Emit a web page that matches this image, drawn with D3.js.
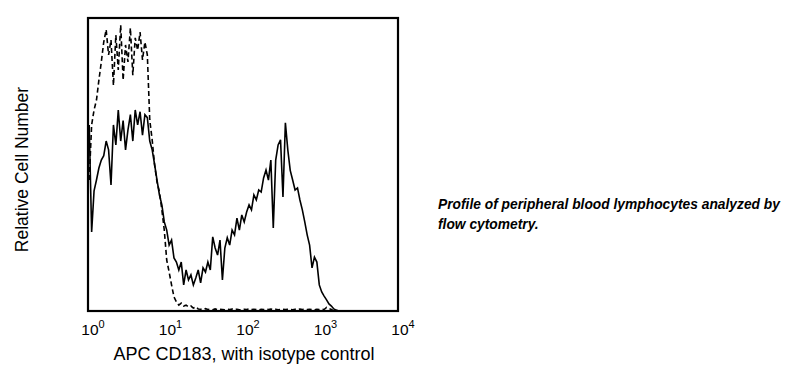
<!DOCTYPE html>
<html>
<head>
<meta charset="utf-8">
<script src="https://cdn.jsdelivr.net/npm/d3@7"></script>
<style>
  html, body { margin: 0; padding: 0; background: #fff; }
  svg { display: block; }
</style>
</head>
<body>
<svg id="chart" width="796" height="378"></svg>
<script>
// ---- data ----
const decadeTicks = [1, 10, 100, 1000, 10000];
const tickExponents = ["0", "1", "2", "3", "4"];
const channelsPerDecade = 32;

// CD183 stained (solid), relative cell number (0-100) per log channel
const cd183Counts = [
  63.5, 27, 41, 44.7, 48.8, 51.5, 53, 58, 55, 43,
  63.5, 56.7, 68.6, 58, 65, 55, 61.8, 67, 58, 68.6,
  63.5, 68, 60, 67, 66, 58, 55, 50, 44.7, 39.6,
  36.2, 30.4, 27.6, 22.5, 24.2, 18.1, 16.7, 14, 16.7, 8.9,
  14, 10.6, 12.3, 8.9, 11.3, 14, 9.6, 14.7, 13.3, 16.7,
  14, 25.3, 21.5, 19.1, 24.2, 10.6, 21.5, 25, 22.5, 27.6,
  26, 31.7, 27.6, 32.8, 30.4, 33.8, 36.2, 34.5, 39.6, 37.9,
  41.3, 40.6, 45.4, 48.1, 44.7, 51.5, 28.3, 51.5, 56.7, 58.4,
  38.9, 64.2, 55, 48, 44.7, 41.3, 42, 37.9, 34.5, 30.4,
  26, 22.5, 14.7, 18.4, 16.7, 8.9, 6.5, 5.1, 3.8, 2.4,
  1.7, 0.7, 0.3, 0, 0, 0, 0, 0, 0, 0,
  0, 0, 0, 0, 0, 0, 0, 0, 0, 0,
  0, 0, 0, 0, 0, 0, 0, 0
];

// isotype control (dashed)
const isotypeCounts = [
  44.7, 63.5, 68.6, 72, 78.8, 85, 91.8, 96, 87.4, 92.5,
  77, 94.2, 82.3, 97.6, 78.8, 90.8, 85, 96.6, 80.5, 93.2,
  89, 95.2, 85.7, 91.8, 87.4, 65.2, 58.4, 49.8, 44, 40.6,
  34.5, 27.6, 17.4, 13.3, 8.9, 4.8, 3.1, 2, 2.7, 1.7,
  2, 1.4, 1.7, 1, 1.4, 0.7, 0.6, 0.5, 0.8, 0.5,
  0.6, 0.4, 0.7, 0.5, 0.6, 0.5, 0.4, 0.6, 0.5, 0.7,
  0.5, 0.6, 0.4, 0.5, 0.6, 0.5, 0.7, 0.5, 0.6, 0.5,
  0.4, 0.6, 0.5, 0.6, 0.5, 0.7, 0.5, 0.6, 0.4, 0.5,
  0.6, 0.5, 0.6, 0.5, 0.4, 0.6, 0.5, 0.7, 0.5, 0.6,
  0.5, 0.6, 0.5, 0.4, 0.6, 0.5, 0.6, 0.5, 1.2, 0.8,
  0.5, 0, 0, 0, 0, 0, 0, 0, 0, 0,
  0, 0, 0, 0, 0, 0, 0, 0, 0, 0,
  0, 0, 0, 0, 0, 0, 0, 0
];

const xAxisTitle = "APC CD183, with isotype control";
const yAxisTitle = "Relative Cell Number";
const captionLines = ["Profile of peripheral blood lymphocytes analyzed by", "flow cytometry."];

// ---- layout ----
const plot = { left: 88, right: 398, top: 18, bottom: 311 };
const svg = d3.select("#chart");
svg.append("rect").attr("width", 796).attr("height", 378).attr("fill", "#fff");

const x = d3.scaleLog().domain([1, 10000]).range([plot.left, plot.right]);
const y = d3.scaleLinear().domain([0, 100]).range([plot.bottom, plot.top]);

const channelValue = i => Math.pow(10, (i + 0.5) / channelsPerDecade);

const line = d3.line()
  .x((d, i) => x(channelValue(i)))
  .y(d => y(d));

const g = svg.append("g");

g.append("path")
  .datum(isotypeCounts)
  .attr("d", line)
  .attr("fill", "none")
  .attr("stroke", "#000")
  .attr("stroke-width", 1.6)
  .attr("stroke-dasharray", "5,3");

g.append("path")
  .datum(cd183Counts)
  .attr("d", line)
  .attr("fill", "none")
  .attr("stroke", "#000")
  .attr("stroke-width", 1.6)
  .attr("stroke-linejoin", "miter");

// frame
svg.append("rect")
  .attr("x", plot.left).attr("y", plot.top)
  .attr("width", plot.right - plot.left).attr("height", plot.bottom - plot.top)
  .attr("fill", "none").attr("stroke", "#000").attr("stroke-width", 2.2);

// tick labels
const tl = svg.append("g").attr("font-family", "Liberation Sans, Arial, sans-serif").attr("fill", "#000");
decadeTicks.forEach((t, k) => {
  const txt = tl.append("text")
    .attr("x", x(t) + 5)
    .attr("y", 335)
    .attr("text-anchor", "middle")
    .attr("font-size", 15.5);
  txt.append("tspan").text("10");
  txt.append("tspan").attr("font-size", 11).attr("dy", -7).text(tickExponents[k]);
});

// axis titles
svg.append("text")
  .attr("x", (plot.left + plot.right) / 2 + 1)
  .attr("y", 360)
  .attr("text-anchor", "middle")
  .attr("font-family", "Liberation Sans, Arial, sans-serif")
  .attr("font-size", 18)
  .text(xAxisTitle);

svg.append("text")
  .attr("transform", `translate(28, ${(plot.top + plot.bottom) / 2 + 5}) rotate(-90)`)
  .attr("text-anchor", "middle")
  .attr("font-family", "Liberation Sans, Arial, sans-serif")
  .attr("font-size", 17.5)
  .text(yAxisTitle);

// caption
const cap = svg.append("text")
  .attr("font-family", "Liberation Sans, Arial, sans-serif")
  .attr("font-size", 13.8)
  .attr("font-weight", "bold")
  .attr("font-style", "italic");
captionLines.forEach((s, i) => {
  cap.append("tspan").attr("x", 438).attr("y", 209 + i * 20).text(s);
});
</script>
</body>
</html>
